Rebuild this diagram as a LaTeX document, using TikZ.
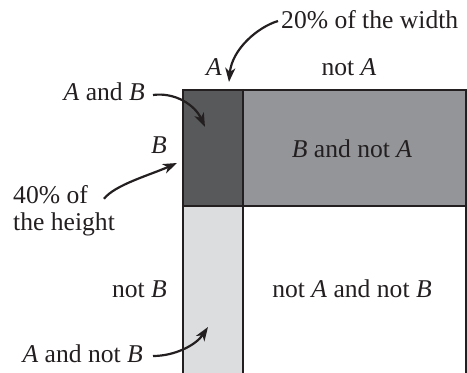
\documentclass[tikz,border=0pt]{standalone}
\usepackage{fontspec}
\setmainfont{Liberation Serif}
\usetikzlibrary{arrows.meta,calc}
\definecolor{darkc}{HTML}{58595B}
\definecolor{midc}{HTML}{939598}
\definecolor{lightc}{HTML}{DCDDDF}
\definecolor{ink}{HTML}{231F20}
\begin{document}
\begin{tikzpicture}[x=1pt,y=-1pt,
 lbl/.style={inner sep=0pt, font=\fontsize{25.6}{27}\selectfont, text=ink},
 arr/.style={draw=ink, line width=2.2pt, -{Stealth[length=14pt,width=10pt,inset=4pt]}},
 border/.style={draw=ink, line width=2.6pt}]
\useasboundingbox (0,0) rectangle (467,373);
\begin{scope}
\clip (0,0) rectangle (467,373);
\fill[darkc] (183,90) rectangle (243,206);
\fill[midc] (243,90) rectangle (466,206);
\fill[lightc] (183,206) rectangle (243,400);
\draw[border] (183,400) -- (183,90) -- (466,90) -- (466,400);
\draw[border] (243,90) -- (243,400);
\draw[border] (183,206) -- (466,206);
\end{scope}
% labels
\node[lbl, anchor=base west] (w20) at (281,28) {20\% of the width};
\node[lbl, anchor=base] (lA) at (214,75) {\textit{A}};
\node[lbl, anchor=base] (lnA) at (349,75) {not \textit{A}};
\node[lbl, anchor=base east] (lAB) at (145,100) {\textit{A} and \textit{B}};
\node[lbl, anchor=base east] (lB) at (167,153) {\textit{B}};
\node[lbl, anchor=base west, align=left] (h40) at (13,230) {40\% of\\the height};
\node[lbl, anchor=base] (BnA) at (352,157) {\textit{B} and not \textit{A}};
\node[lbl, anchor=base east] (lnB) at (167,297) {not \textit{B}};
\node[lbl, anchor=base] (nAnB) at (352,297) {not \textit{A} and not \textit{B}};
\node[lbl, anchor=base east] (AnB) at (143,362) {\textit{A} and not \textit{B}};
% arrow tips
\coordinate (tA) at (229,82);
\coordinate (tAB) at (205,127);
\coordinate (tB) at (177,163);
\coordinate (tAnB) at (208,327);
% arrows
\draw[arr] ($(w20.base west)+(-3,-7)$) .. controls +(-20,6) and +(3,-33) .. (tA);
\draw[arr] ($(lAB.base east)+(8,-5)$) .. controls +(22,-3) and +(-10,-22) .. (tAB);
\draw[arr] ($(h40.north west)+(91,14)$) .. controls +(11,-14) and +(-27,12) .. (tB);
\draw[arr] ($(AnB.base east)+(10,-6)$) .. controls +(22,0) and +(-12,18) .. (tAnB);
\end{tikzpicture}
\end{document}
